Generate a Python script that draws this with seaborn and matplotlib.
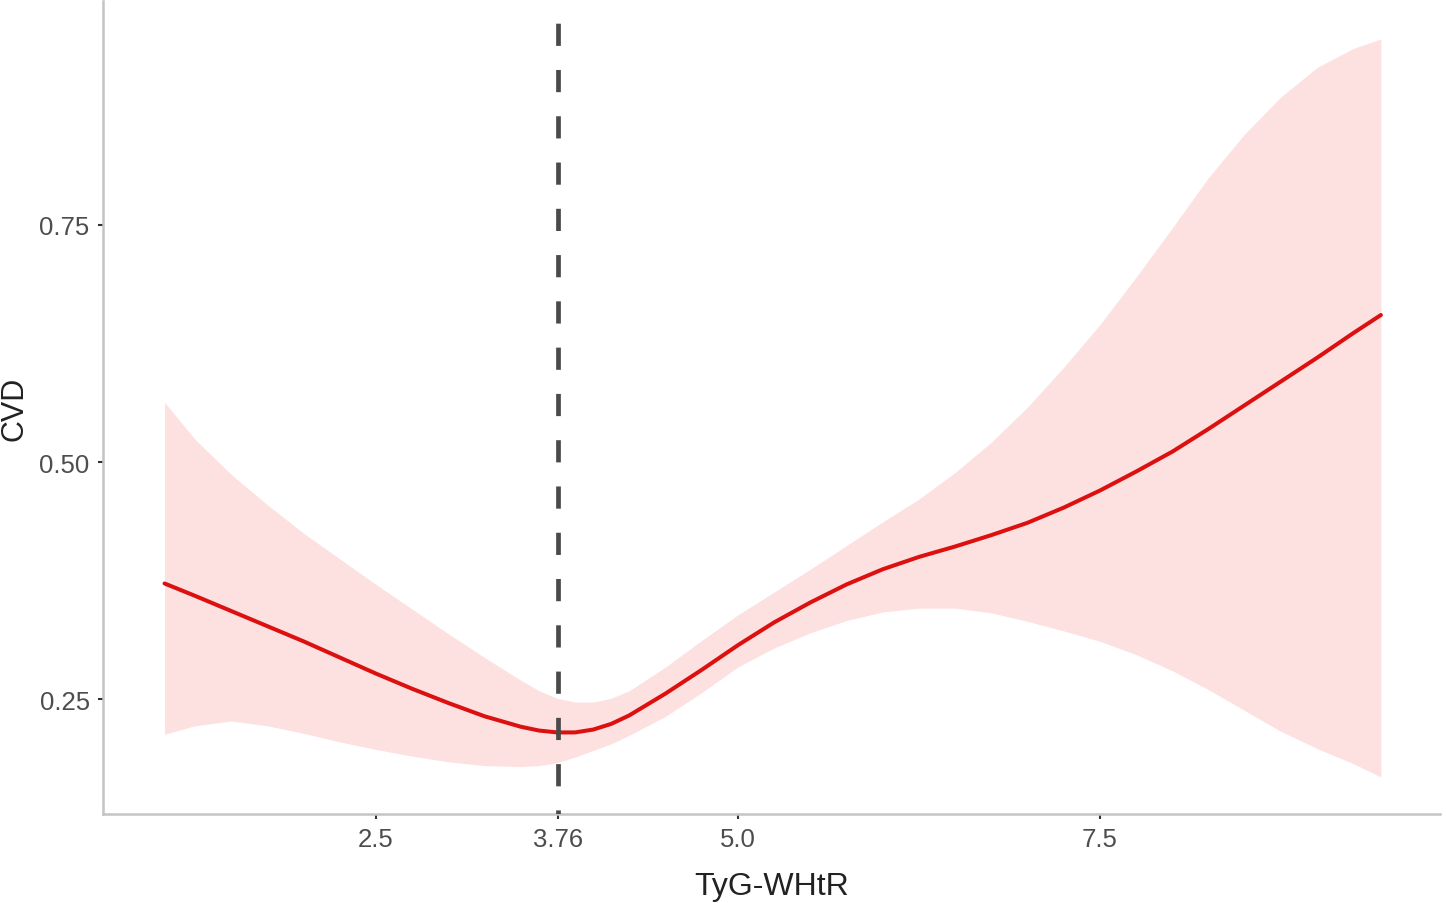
import matplotlib
matplotlib.use('Agg')
import matplotlib.pyplot as plt
import seaborn as sns
import numpy as np
import pandas as pd

# values
tyg_whtr = [1.04, 1.25, 1.5, 1.75, 2.0, 2.25, 2.5, 2.75, 3.0, 3.25, 3.5, 3.625, 3.75, 3.875,
            4.0, 4.125, 4.25, 4.5, 4.75, 5.0, 5.25, 5.5, 5.75, 6.0, 6.25, 6.5, 6.75,
            7.0, 7.25, 7.5, 7.75, 8.0, 8.25, 8.5, 8.75, 9.0, 9.25, 9.44]
cvd_fit = [0.372, 0.359, 0.343, 0.327, 0.311, 0.294, 0.277, 0.261, 0.246, 0.232, 0.221, 0.217, 0.215, 0.215,
           0.218, 0.224, 0.233, 0.256, 0.281, 0.307, 0.331, 0.352, 0.371, 0.387, 0.400, 0.411, 0.423,
           0.436, 0.452, 0.470, 0.490, 0.511, 0.535, 0.560, 0.585, 0.610, 0.636, 0.655]
cvd_upper = [0.563, 0.524, 0.487, 0.455, 0.425, 0.398, 0.371, 0.345, 0.319, 0.294, 0.270, 0.259, 0.251, 0.247,
             0.247, 0.251, 0.259, 0.284, 0.312, 0.339, 0.363, 0.387, 0.412, 0.437, 0.461, 0.489, 0.521,
             0.558, 0.600, 0.645, 0.695, 0.747, 0.800, 0.846, 0.885, 0.916, 0.936, 0.946]
cvd_lower = [0.213, 0.222, 0.227, 0.222, 0.214, 0.205, 0.197, 0.190, 0.184, 0.180, 0.179, 0.180, 0.183, 0.189,
             0.196, 0.203, 0.212, 0.232, 0.257, 0.284, 0.304, 0.320, 0.333, 0.342, 0.346, 0.346, 0.341,
             0.332, 0.322, 0.311, 0.297, 0.280, 0.260, 0.238, 0.216, 0.198, 0.182, 0.168]
cutoff = 3.76
x_ticks = [2.5, cutoff, 5.0, 7.5]
x_ticklabels = ['2.5', '3.76', '5.0', '7.5']
y_ticks = [0.25, 0.50, 0.75]
y_ticklabels = ['0.25', '0.50', '0.75']

df = pd.DataFrame({'TyG-WHtR': tyg_whtr, 'CVD': cvd_fit,
                   'lower': cvd_lower, 'upper': cvd_upper})

sns.set_theme(style='ticks')
plt.rcParams['font.family'] = ['Liberation Sans', 'DejaVu Sans']

fig = plt.figure(figsize=(14.46, 9.04), dpi=100)
ax = fig.add_axes([103 / 1446, 89 / 904, 1337 / 1446, 813 / 904])

ax.fill_between(df['TyG-WHtR'], df['lower'], df['upper'], color='#fde1e1', linewidth=0, zorder=1)
sns.lineplot(data=df, x='TyG-WHtR', y='CVD', color='#dd1010', linewidth=2.9, ax=ax, zorder=3)

ax.set_xlim(0.615, 9.848)
ax.set_ylim(0.129, 0.986)
ax.plot([cutoff, cutoff], [0.986, 0.129], color='#4a4a4a', linewidth=3.4,
        linestyle=(5.1, (4.7, 5.1)), zorder=4, dash_capstyle='butt')

ax.set_xticks(x_ticks)
ax.set_xticklabels(x_ticklabels)
ax.set_yticks(y_ticks)
ax.set_yticklabels(y_ticklabels)
ax.tick_params(axis='both', length=3.6, width=1.5, color='#333333',
               labelsize=18.5, labelcolor='#4d4d4d', pad=6)

sns.despine(ax=ax)
for side in ['left', 'bottom']:
    ax.spines[side].set_color('#c4c4c4')
    ax.spines[side].set_linewidth(1.8)

ax.set_xlabel('TyG-WHtR', fontsize=23, color='#222222', labelpad=14)
ax.set_ylabel('CVD', fontsize=22, color='#222222', labelpad=7)

fig.savefig('out.png', dpi=100)
plt.close(fig)
